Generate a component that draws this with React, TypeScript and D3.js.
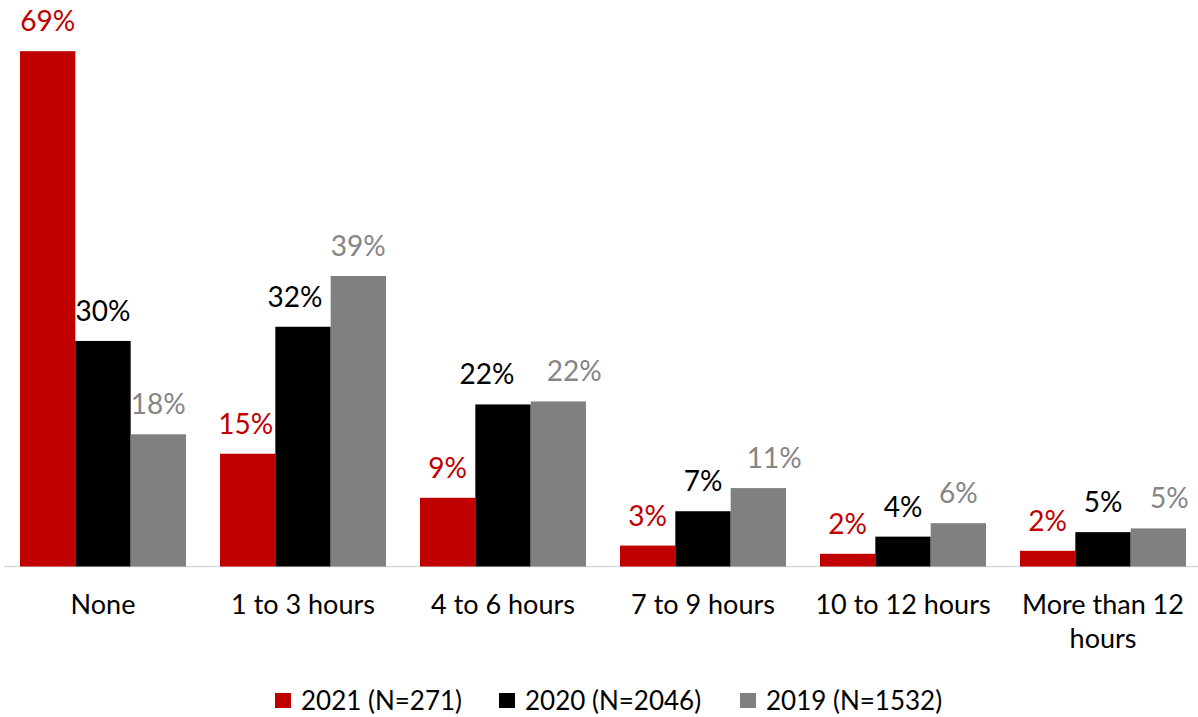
import React from "react";
import * as d3 from "d3";

const categories = ["None", "1 to 3 hours", "4 to 6 hours", "7 to 9 hours", "10 to 12 hours", "More than 12 hours"];
const seriesNames = ["2021 (N=271)", "2020 (N=2046)", "2019 (N=1532)"];
const values2021 = [69, 15.1, 9.2, 2.8, 1.7, 2.1];
const values2020 = [30.2, 32.1, 21.7, 7.4, 4.0, 4.6];
const values2019 = [17.7, 38.9, 22.1, 10.5, 5.8, 5.1];
const labels2021 = ["69%", "15%", "9%", "3%", "2%", "2%"];
const labels2020 = ["30%", "32%", "22%", "7%", "4%", "5%"];
const labels2019 = ["18%", "39%", "22%", "11%", "6%", "5%"];
const barColors = ["#C00000", "#000000", "#808080"];
const labelColors = ["#C00000", "#000000", "#858585"];
// horizontal nudges of individual data labels (as placed in the original)
const labelShift2021 = [0, -2, 0, 0, 0, 0];
const labelShift2020 = [0, -8, -16, 0, 0, 0];
const labelShift2019 = [0, 0, 16, 16, 0, 11];

const W = 1198;
const H = 717;
const FONT = "Lato, 'Open Sans', sans-serif";

export default function App() {
  const series = [values2021, values2020, values2019];
  const labels = [labels2021, labels2020, labels2019];
  const shifts = [labelShift2021, labelShift2020, labelShift2019];
  const x0 = d3.scaleBand<string>().domain(categories).range([3, 1203]).paddingInner(0.17).paddingOuter(0.085);
  const x1 = d3.scaleBand<string>().domain(seriesNames).range([0, x0.bandwidth()]).padding(0);
  const y = d3.scaleLinear().domain([0, 70]).range([566.5, 43.7]);

  const catLines = (c: string) => (c === "More than 12 hours" ? ["More than 12", "hours"] : [c]);

  const legendX = [275, 499, 740];

  return (
    <svg width={W} height={H} style={{ position: "absolute", left: 0, top: 0, background: "#fff" }} fontFamily={FONT}>
      <line x1={4} x2={W} y1={y(0)} y2={y(0)} stroke="#d9d9d9" strokeWidth={1.5} />
      {categories.map((c, i) => (
        <g key={c} transform={`translate(${x0(c)},0)`}>
          {series.map((s, j) => {
            const bx = x1(seriesNames[j])!;
            return (
              <g key={j}>
                <rect x={bx} y={y(s[i])} width={x1.bandwidth()} height={y(0) - y(s[i])} fill={barColors[j]} />
                <text
                  x={bx + x1.bandwidth() / 2 + shifts[j][i]}
                  y={y(s[i]) - 20}
                  textAnchor="middle"
                  fontSize={28}
                  fill={labelColors[j]}
                >
                  {labels[j][i]}
                </text>
              </g>
            );
          })}
          {catLines(c).map((ln, k) => (
            <text key={k} x={x0.bandwidth() / 2} y={614 + k * 34} textAnchor="middle" fontSize={27} fill="#000">
              {ln}
            </text>
          ))}
        </g>
      ))}
      {seriesNames.map((n, j) => (
        <g key={n} transform={`translate(${legendX[j]},0)`}>
          <rect x={0} y={693} width={16} height={15} fill={barColors[j]} />
          <text x={26} y={710} fontSize={26} fill="#000">
            {n}
          </text>
        </g>
      ))}
    </svg>
  );
}
